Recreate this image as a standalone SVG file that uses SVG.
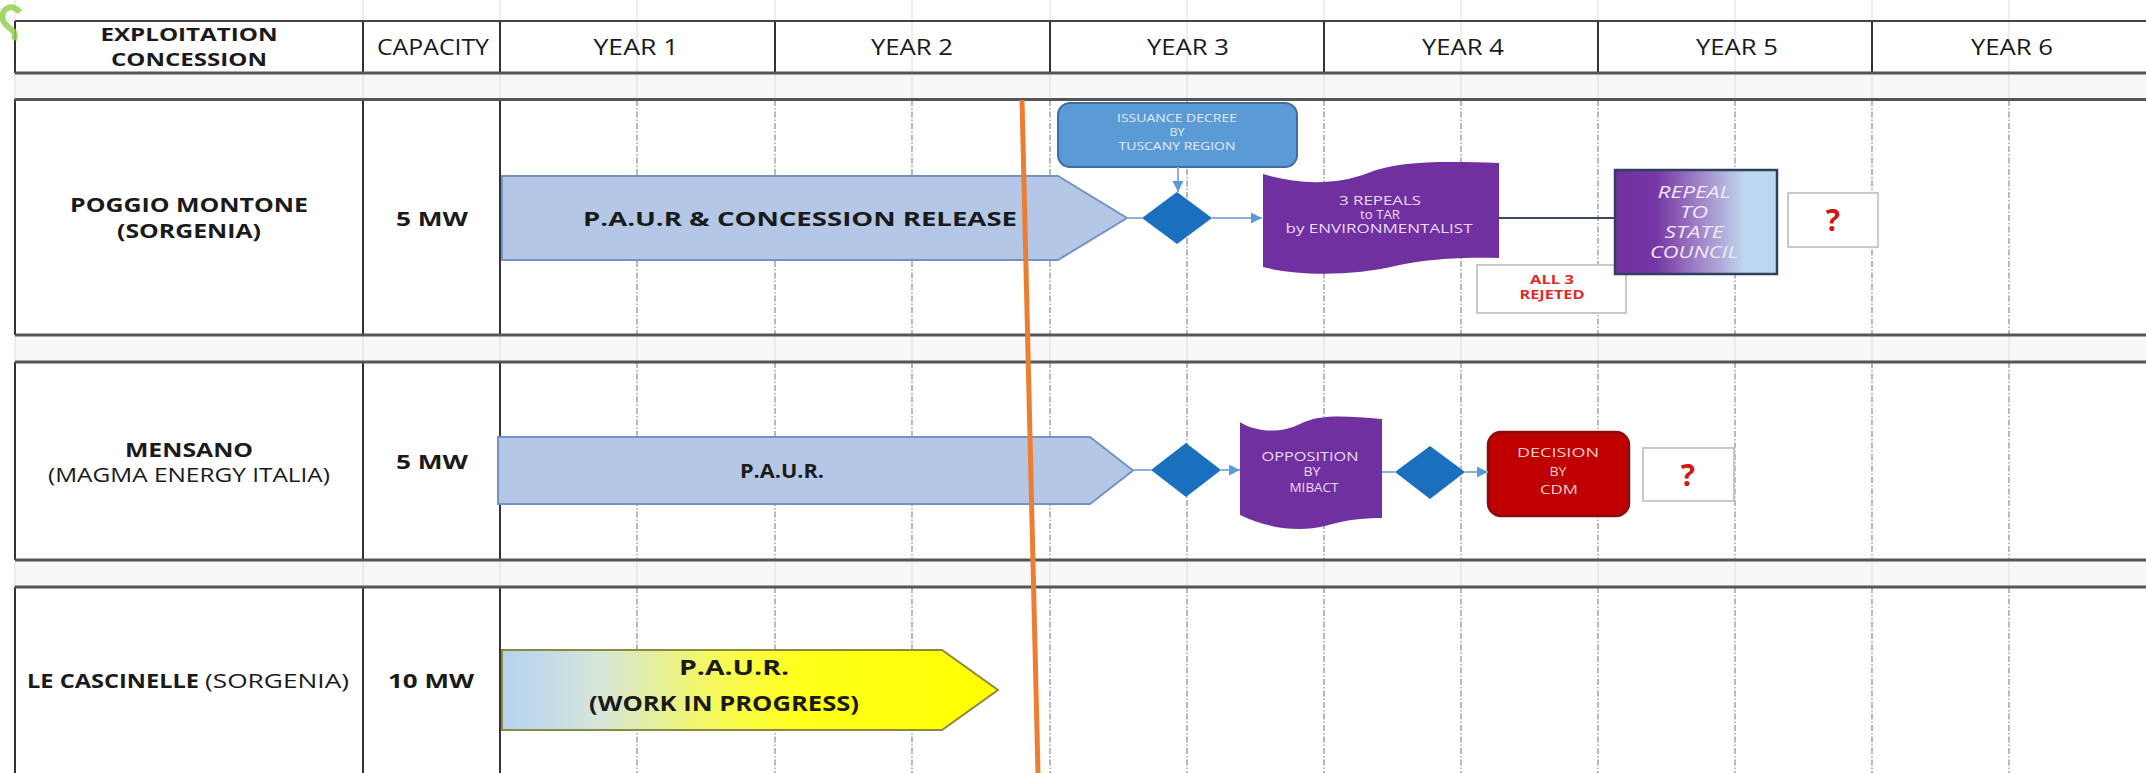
<svg xmlns="http://www.w3.org/2000/svg" width="2146" height="773" viewBox="0 0 2146 773">
<defs>
<style>
text{font-family:"Open Sans","Liberation Sans",sans-serif;fill:#1a1a1a}
.c{text-anchor:middle}
.b{font-weight:bold}
.hdr{font-size:21px}
.lbl{font-size:20px}
.solid{stroke:#333;stroke-width:2}
.hline{stroke:#555;stroke-width:3}
.grid{stroke:#dcdcdc;stroke-width:1}
.dash{stroke:#8a8a8a;stroke-width:1.2;stroke-dasharray:6 2 1.5 2}
.conn{stroke:#8FAFD6;stroke-width:2;fill:none}
.diam{fill:#1A6FBF}
.tape{fill:#7030A0}
.tapetxt{fill:#EBDDF5;font-size:13.5px}
.qbox{fill:#fff;stroke:#c8c8c8;stroke-width:2}
.q{fill:#D01818;font-size:30px;font-weight:bold}
</style>
<marker id="ah" viewBox="0 0 10 10" refX="10" refY="5" markerWidth="13" markerHeight="11" markerUnits="userSpaceOnUse" orient="auto"><path d="M0,0 L10,5 L0,10 z" fill="#5B9BD5"/></marker>
<linearGradient id="gRepeal" x1="0" y1="0" x2="1" y2="0">
<stop offset="0" stop-color="#7030A0"/><stop offset="0.25" stop-color="#7636A4"/><stop offset="0.55" stop-color="#A58CCB"/><stop offset="0.8" stop-color="#BDD7EE"/><stop offset="1" stop-color="#BDD7EE"/>
</linearGradient>
<linearGradient id="gYellow" x1="0" y1="0" x2="1" y2="0">
<stop offset="0" stop-color="#B5D2F0"/><stop offset="0.2" stop-color="#D6E6D8"/><stop offset="0.45" stop-color="#F8FA50"/><stop offset="0.6" stop-color="#FFFF1A"/><stop offset="1" stop-color="#FFFF00"/>
</linearGradient>
</defs>

<rect width="2146" height="773" fill="#ffffff"/>

<g id="table">
<rect x="15" y="73" width="2131" height="26" fill="#f8f8f8"/>
<rect x="15" y="335" width="2131" height="27" fill="#f8f8f8"/>
<rect x="15" y="560" width="2131" height="27" fill="#f8f8f8"/>
<g class="grid">
<path d="M15,0V21M363,0V21M500,0V21M637,0V21M775,0V21M912,0V21M1050,0V21M1187,0V21M1324,0V21M1461,0V21M1598,0V21M1735,0V21M1872,0V21M2009,0V21"/>
<path d="M0,21H2146" stroke="#eeeeee"/>
<path d="M15,73V99M363,73V99M500,73V99M637,73V99M775,73V99M912,73V99M1050,73V99M1187,73V99M1324,73V99M1461,73V99M1598,73V99M1735,73V99M1872,73V99M2009,73V99"/>
<path d="M15,335V362M363,335V362M500,335V362M637,335V362M775,335V362M912,335V362M1050,335V362M1187,335V362M1324,335V362M1461,335V362M1598,335V362M1735,335V362M1872,335V362M2009,335V362"/>
<path d="M15,560V587M363,560V587M500,560V587M637,560V587M775,560V587M912,560V587M1050,560V587M1187,560V587M1324,560V587M1461,560V587M1598,560V587M1735,560V587M1872,560V587M2009,560V587"/>
<path d="M637,21V73M912,21V73M1187,21V73M1461,21V73M1735,21V73M2009,21V73"/>
</g>
<g class="dash">
<path d="M637,100V335M775,100V335M912,100V335M1050,100V335M1187,100V335M1324,100V335M1461,100V335M1598,100V335M1735,100V335M1872,100V335M2009,100V335"/>
<path d="M637,362V560M775,362V560M912,362V560M1050,362V560M1187,362V560M1324,362V560M1461,362V560M1598,362V560M1735,362V560M1872,362V560M2009,362V560"/>
<path d="M637,587V773M775,587V773M912,587V773M1050,587V773M1187,587V773M1324,587V773M1461,587V773M1598,587V773M1735,587V773M1872,587V773M2009,587V773"/>
</g>
<g class="solid">
<path d="M15,21V73M363,21V73M500,21V73M775,21V73M1050,21V73M1324,21V73M1598,21V73M1872,21V73"/>
<path d="M15,99V335M363,99V335M500,99V335"/>
<path d="M15,362V560M363,362V560M500,362V560"/>
<path d="M15,587V773M363,587V773M500,587V773"/>
</g>
<path d="M15,21H2146" stroke="#444" stroke-width="2"/>
<g class="hline">
<path d="M15,73H2146M15,99.5H2146M15,335H2146M15,362H2146M15,560H2146M15,587H2146"/>
</g>
</g>

<path d="M20,12 C10,2 0,10 3,20 C6,30 18,28 14,40" fill="none" stroke="#92D050" stroke-width="6" opacity="0.85"/>

<g id="header">
<text class="c b" x="189" y="41" font-size="18" textLength="177" lengthAdjust="spacingAndGlyphs">EXPLOITATION</text>
<text class="c b" x="189" y="66" font-size="18" textLength="156" lengthAdjust="spacingAndGlyphs">CONCESSION</text>
<text class="c hdr" x="433" y="55" textLength="112" lengthAdjust="spacingAndGlyphs">CAPACITY</text>
<text class="c hdr" x="636" y="55" textLength="85" lengthAdjust="spacingAndGlyphs">YEAR 1</text>
<text class="c hdr" x="912" y="55" textLength="82" lengthAdjust="spacingAndGlyphs">YEAR 2</text>
<text class="c hdr" x="1188" y="55" textLength="82" lengthAdjust="spacingAndGlyphs">YEAR 3</text>
<text class="c hdr" x="1463" y="55" textLength="82" lengthAdjust="spacingAndGlyphs">YEAR 4</text>
<text class="c hdr" x="1737" y="55" textLength="82" lengthAdjust="spacingAndGlyphs">YEAR 5</text>
<text class="c hdr" x="2012" y="55" textLength="82" lengthAdjust="spacingAndGlyphs">YEAR 6</text>
</g>

<g id="poggio-label">
<text class="c b lbl" x="189" y="212" textLength="238" lengthAdjust="spacingAndGlyphs">POGGIO MONTONE</text>
<text class="c b lbl" x="189" y="238" textLength="144" lengthAdjust="spacingAndGlyphs">(SORGENIA)</text>
</g>
<g id="poggio-capacity">
<text class="c b lbl" x="432" y="226" textLength="72" lengthAdjust="spacingAndGlyphs">5 MW</text>
</g>
<g id="paur-concession">
<polygon points="502,176 1058,176 1127,218 1058,260 502,260" fill="#B4C7E7" stroke="#7592C4" stroke-width="2"/>
<text class="c b" x="800" y="226" font-size="20" textLength="434" lengthAdjust="spacingAndGlyphs">P.A.U.R &amp; CONCESSION RELEASE</text>
</g>
<g id="issuance-decree">
<rect x="1058" y="103" width="239" height="64" rx="12" fill="#5B9BD5" stroke="#3F6E9E" stroke-width="2"/>
<text class="c" x="1177" y="122" font-size="11.5" style="fill:#E4ECF7" textLength="120" lengthAdjust="spacingAndGlyphs">ISSUANCE DECREE</text>
<text class="c" x="1177" y="136" font-size="11.5" style="fill:#E4ECF7" textLength="15" lengthAdjust="spacingAndGlyphs">BY</text>
<text class="c" x="1177" y="150" font-size="11.5" style="fill:#E4ECF7" textLength="117" lengthAdjust="spacingAndGlyphs">TUSCANY REGION</text>
</g>
<g id="decision-1">
<polygon class="diam" points="1142,218 1177,192 1212,218 1177,244"/>
</g>
<g id="repeals-tar">
<path class="tape" d="M1263,174 C1295,184 1335,186 1368,173 C1398,161 1440,161 1499,163 L1499,258 C1462,257 1425,259 1395,266 C1358,275 1300,277 1263,267 Z"/>
<text class="c tapetxt" x="1380" y="205" textLength="82" lengthAdjust="spacingAndGlyphs">3 REPEALS</text>
<text class="c tapetxt" x="1380" y="219" textLength="40" lengthAdjust="spacingAndGlyphs">to TAR</text>
<text class="c tapetxt" x="1379" y="233" textLength="187" lengthAdjust="spacingAndGlyphs">by ENVIRONMENTALIST</text>
</g>
<g id="all3-rejected">
<rect x="1477" y="265" width="149" height="48" fill="#fff" stroke="#c8c8c8" stroke-width="2"/>
<text class="c b" x="1552" y="284" font-size="12.5" style="fill:#E02A2A" textLength="44" lengthAdjust="spacingAndGlyphs">ALL 3</text>
<text class="c b" x="1552" y="299" font-size="12.5" style="fill:#E02A2A" textLength="65" lengthAdjust="spacingAndGlyphs">REJETED</text>
</g>
<g id="repeal-state-council">
<rect x="1615" y="170" width="162" height="104" fill="url(#gRepeal)" stroke="#2F3F5F" stroke-width="2.5"/>
<g font-style="italic" font-size="16">
<text class="c" x="1694" y="198" style="fill:#F1E8F8" textLength="73" lengthAdjust="spacingAndGlyphs">REPEAL</text>
<text class="c" x="1694" y="218" style="fill:#F1E8F8" textLength="28" lengthAdjust="spacingAndGlyphs">TO</text>
<text class="c" x="1694" y="238" style="fill:#F1E8F8" textLength="59" lengthAdjust="spacingAndGlyphs">STATE</text>
<text class="c" x="1694" y="258" style="fill:#F1E8F8" textLength="88" lengthAdjust="spacingAndGlyphs">COUNCIL</text>
</g>
</g>
<g id="unknown-1">
<rect class="qbox" x="1788" y="193" width="90" height="54"/>
<text class="c q" x="1833" y="231">?</text>
</g>

<g id="mensano-label">
<text class="c b lbl" x="189" y="457" textLength="128" lengthAdjust="spacingAndGlyphs">MENSANO</text>
<text class="c lbl" x="189" y="482" textLength="282" lengthAdjust="spacingAndGlyphs">(MAGMA ENERGY ITALIA)</text>
</g>
<g id="mensano-capacity">
<text class="c b lbl" x="432" y="469" textLength="72" lengthAdjust="spacingAndGlyphs">5 MW</text>
</g>
<g id="paur-mensano">
<polygon points="498,437 1090,437 1133,470.5 1090,504 498,504" fill="#B4C7E7" stroke="#7592C4" stroke-width="2"/>
<text class="c b" x="782" y="478" font-size="20" textLength="84" lengthAdjust="spacingAndGlyphs">P.A.U.R.</text>
</g>
<g id="decision-2">
<polygon class="diam" points="1151,470 1186,443 1221,470 1186,497"/>
</g>
<g id="opposition-mibact">
<path class="tape" d="M1240,422 C1255,432 1280,434 1300,424 C1320,414 1345,416 1382,419 L1382,518 C1362,518 1345,520 1325,526 C1300,532 1268,529 1240,515 Z"/>
<text class="c tapetxt" x="1310" y="461" textLength="97" lengthAdjust="spacingAndGlyphs">OPPOSITION</text>
<text class="c tapetxt" x="1312" y="476" textLength="17" lengthAdjust="spacingAndGlyphs">BY</text>
<text class="c tapetxt" x="1314" y="492" textLength="49" lengthAdjust="spacingAndGlyphs">MIBACT</text>
</g>
<g id="decision-3">
<polygon class="diam" points="1395,472 1430,446 1465,472 1430,499"/>
</g>
<g id="decision-cdm">
<rect x="1488" y="432" width="141" height="84" rx="13" fill="#C00000" stroke="#8A0D0D" stroke-width="2.5"/>
<text class="c" x="1558" y="457" font-size="13.5" style="fill:#F6CFCF" textLength="82" lengthAdjust="spacingAndGlyphs">DECISION</text>
<text class="c" x="1558" y="476" font-size="13.5" style="fill:#F6CFCF" textLength="17" lengthAdjust="spacingAndGlyphs">BY</text>
<text class="c" x="1559" y="494" font-size="13.5" style="fill:#F6CFCF" textLength="38" lengthAdjust="spacingAndGlyphs">CDM</text>
</g>
<g id="unknown-2">
<rect class="qbox" x="1643" y="448" width="91" height="53"/>
<text class="c q" x="1688" y="486">?</text>
</g>

<g id="cascinelle-label">
<text class="b lbl" x="27" y="688" textLength="172" lengthAdjust="spacingAndGlyphs">LE CASCINELLE</text>
<text class="lbl" x="205" y="688" textLength="144" lengthAdjust="spacingAndGlyphs">(SORGENIA)</text>
</g>
<g id="cascinelle-capacity">
<text class="c b lbl" x="431" y="688" textLength="86" lengthAdjust="spacingAndGlyphs">10 MW</text>
</g>
<g id="paur-wip">
<polygon points="502,650 942,650 998,690 942,730 502,730" fill="url(#gYellow)" stroke="#8C8A40" stroke-width="2"/>
<text class="c b" x="734" y="675" font-size="21" textLength="110" lengthAdjust="spacingAndGlyphs">P.A.U.R.</text>
<text class="c b" x="724" y="711" font-size="21" textLength="270" lengthAdjust="spacingAndGlyphs">(WORK IN PROGRESS)</text>
</g>

<g id="connectors">
<line class="conn" x1="1127" y1="218" x2="1142" y2="218"/>
<line class="conn" x1="1212" y1="218" x2="1262" y2="218" marker-end="url(#ah)"/>
<line class="conn" x1="1178" y1="167" x2="1178" y2="192" marker-end="url(#ah)"/>
<line x1="1499" y1="218" x2="1615" y2="218" stroke="#3B4A60" stroke-width="2"/>
<line class="conn" x1="1133" y1="470" x2="1151" y2="470"/>
<line class="conn" x1="1221" y1="470" x2="1240" y2="470" marker-end="url(#ah)"/>
<line class="conn" x1="1382" y1="472" x2="1395" y2="472"/>
<line class="conn" x1="1465" y1="472" x2="1488" y2="472" marker-end="url(#ah)"/>
</g>

<g id="today-marker">
<line x1="1022" y1="100" x2="1038" y2="773" stroke="#ED7D31" stroke-width="5"/>
</g>
</svg>
